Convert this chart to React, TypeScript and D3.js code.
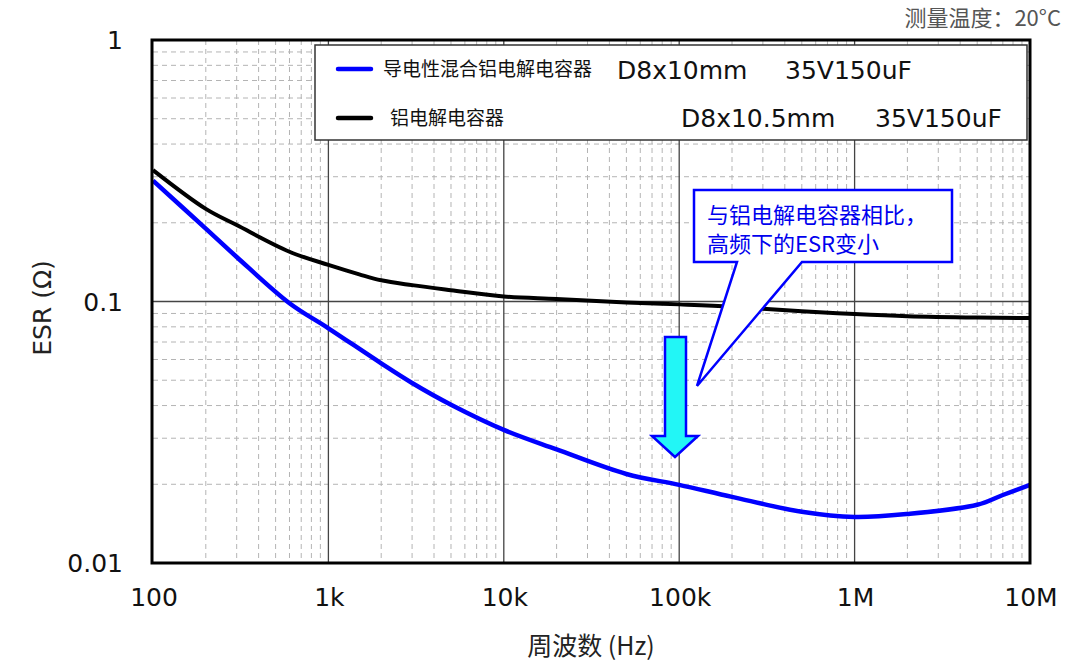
import React from "react";
import * as d3 from "d3";

const hybridFreqs = [100, 200, 300, 600, 1e3, 2e3, 3e3, 5e3, 1e4, 2e4, 5e4, 1e5, 2e5, 5e5, 1e6, 2e6, 5e6, 7e6, 1e7];
const hybridESR = [0.29, 0.19, 0.148, 0.0985, 0.079, 0.058, 0.0488, 0.0403, 0.0323, 0.0272, 0.0219, 0.0199, 0.0179, 0.0157, 0.015, 0.0154, 0.0167, 0.0182, 0.0199];
const alumFreqs = [100, 200, 300, 600, 1e3, 1.5e3, 2e3, 3e3, 5e3, 1e4, 2e4, 5e4, 1e5, 2e5, 5e5, 1e6, 2e6, 5e6, 1e7];
const alumESR = [0.318, 0.226, 0.196, 0.155, 0.138, 0.127, 0.1205, 0.1155, 0.1105, 0.1045, 0.1022, 0.0992, 0.0975, 0.0955, 0.0918, 0.0895, 0.0878, 0.0868, 0.0865];

const xTicks = [100, 1e3, 1e4, 1e5, 1e6, 1e7];
const xTickLabels = ["100", "1k", "10k", "100k", "1M", "10M"];
const yTicks = [0.01, 0.1, 1];
const yTickLabels = ["0.01", "0.1", "1"];

const legendNames = ["导电性混合铝电解电容器", "铝电解电容器"];
const legendSizes = ["D8x10mm", "D8x10.5mm"];
const legendRatings = ["35V150uF", "35V150uF"];
const calloutLines = ["与铝电解电容器相比，", "高频下的ESR变小"];
const tempNote = "测量温度：20°C";
const xTitle = "周波数 (Hz)";
const yTitle = "ESR (Ω)";

const W = 1080;
const H = 661;
const L = 153, R = 1030, T = 40, B = 563;
const NUM = "'DejaVu Sans', 'Noto Sans CJK SC', sans-serif";
const CJK = "'Noto Sans CJK SC', 'DejaVu Sans', sans-serif";

export default function App() {
  const x = d3.scaleLog().domain([100, 1e7]).range([L, R]);
  const y = d3.scaleLog().domain([0.01, 1]).range([B, T]);

  const minorX: number[] = [];
  for (let e = 2; e < 7; e++) for (let k = 2; k <= 9; k++) minorX.push(k * Math.pow(10, e));
  const minorY: number[] = [];
  for (let e = -2; e < 0; e++) for (let k = 2; k <= 9; k++) minorY.push(k * Math.pow(10, e));
  const majorX = [1e3, 1e4, 1e5, 1e6];
  const majorY = [0.1];

  const mkLine = (fs: number[]) =>
    d3
      .line<number>()
      .x((_, i) => x(fs[i]))
      .y((v) => y(v))
      .curve(d3.curveCatmullRom.alpha(0.5));

  const blueD = mkLine(hybridFreqs)(hybridESR) || "";
  const blackD = mkLine(alumFreqs)(alumESR) || "";

  return (
    <svg width={W} height={H} style={{ position: "absolute", left: 0, top: 0, background: "#fff" }}>
      <rect x={0} y={0} width={W} height={H} fill="#fff" />
      {minorX.map((f) => (
        <line key={"mx" + f} x1={x(f)} x2={x(f)} y1={T} y2={B} stroke="#b4b4b4" strokeWidth={1} strokeDasharray="5,4" />
      ))}
      {minorY.map((v) => (
        <line key={"my" + v} x1={L} x2={R} y1={y(v)} y2={y(v)} stroke="#b4b4b4" strokeWidth={1} strokeDasharray="5,4" />
      ))}
      {majorX.map((f) => (
        <line key={"MX" + f} x1={x(f)} x2={x(f)} y1={T} y2={B} stroke="#444" strokeWidth={1.3} />
      ))}
      {majorY.map((v) => (
        <line key={"MY" + v} x1={L} x2={R} y1={y(v)} y2={y(v)} stroke="#444" strokeWidth={1.3} />
      ))}

      <path d={blackD} fill="none" stroke="#000" strokeWidth={4} strokeLinejoin="round" />
      <path d={blueD} fill="none" stroke="#0000ff" strokeWidth={4.5} strokeLinejoin="round" />

      <rect x={L - 1} y={T} width={R - L + 1} height={B - T} fill="none" stroke="#000" strokeWidth={3} />

      <rect x={315} y={45} width={712} height={95} fill="#fff" stroke="#333" strokeWidth={1.5} />
      <line x1={338} x2={371} y1={69} y2={69} stroke="#0000ff" strokeWidth={4.5} strokeLinecap="round" />
      <line x1={338} x2={371} y1={118} y2={118} stroke="#000" strokeWidth={4.5} strokeLinecap="round" />
      <text x={383} y={76} fontFamily={CJK} fontSize={19} fill="#111">{legendNames[0]}</text>
      <text x={390} y={125} fontFamily={CJK} fontSize={19} fill="#111">{legendNames[1]}</text>
      <text x={617} y={79} fontFamily={NUM} fontSize={25} fill="#111">{legendSizes[0]}</text>
      <text x={785} y={79} fontFamily={NUM} fontSize={25} fill="#111">{legendRatings[0]}</text>
      <text x={681} y={127} fontFamily={NUM} fontSize={25} fill="#111">{legendSizes[1]}</text>
      <text x={875} y={127} fontFamily={NUM} fontSize={25} fill="#111">{legendRatings[1]}</text>

      <path d="M694,190 H952 V262 H802 L697,386 L737,262 H694 Z" fill="#fff" stroke="#0000ff" strokeWidth={2.5} strokeLinejoin="miter" />
      <text x={707} y={223} fontFamily={CJK} fontSize={22} fill="#0000ee">{calloutLines[0]}</text>
      <text x={707} y={252} fontFamily={CJK} fontSize={22} fill="#0000ee">{calloutLines[1]}</text>

      <path d="M665,337 H686 V436 H698 L675,457 L652,436 H665 Z" fill="#22f6f6" stroke="#0000ff" strokeWidth={2.5} strokeLinejoin="miter" />

      {xTicks.map((f, i) => (
        <text key={"xt" + f} x={x(f) + 1} y={606} textAnchor="middle" fontFamily={NUM} fontSize={25} fill="#111">
          {xTickLabels[i]}
        </text>
      ))}
      {yTicks.map((v, i) => (
        <text key={"yt" + v} x={123} y={y(v) + 9} textAnchor="end" fontFamily={NUM} fontSize={25} fill="#111">
          {yTickLabels[i]}
        </text>
      ))}

      <text x={591} y={655} textAnchor="middle" fontFamily={CJK} fontSize={25} fill="#222">{xTitle}</text>
      <text transform="translate(51,308) rotate(-90)" textAnchor="middle" fontFamily={NUM} fontSize={25} fill="#222">{yTitle}</text>
      <text x={1061} y={26} textAnchor="end" fontFamily={CJK} fontSize={22} fill="#555">{tempNote}</text>
    </svg>
  );
}
